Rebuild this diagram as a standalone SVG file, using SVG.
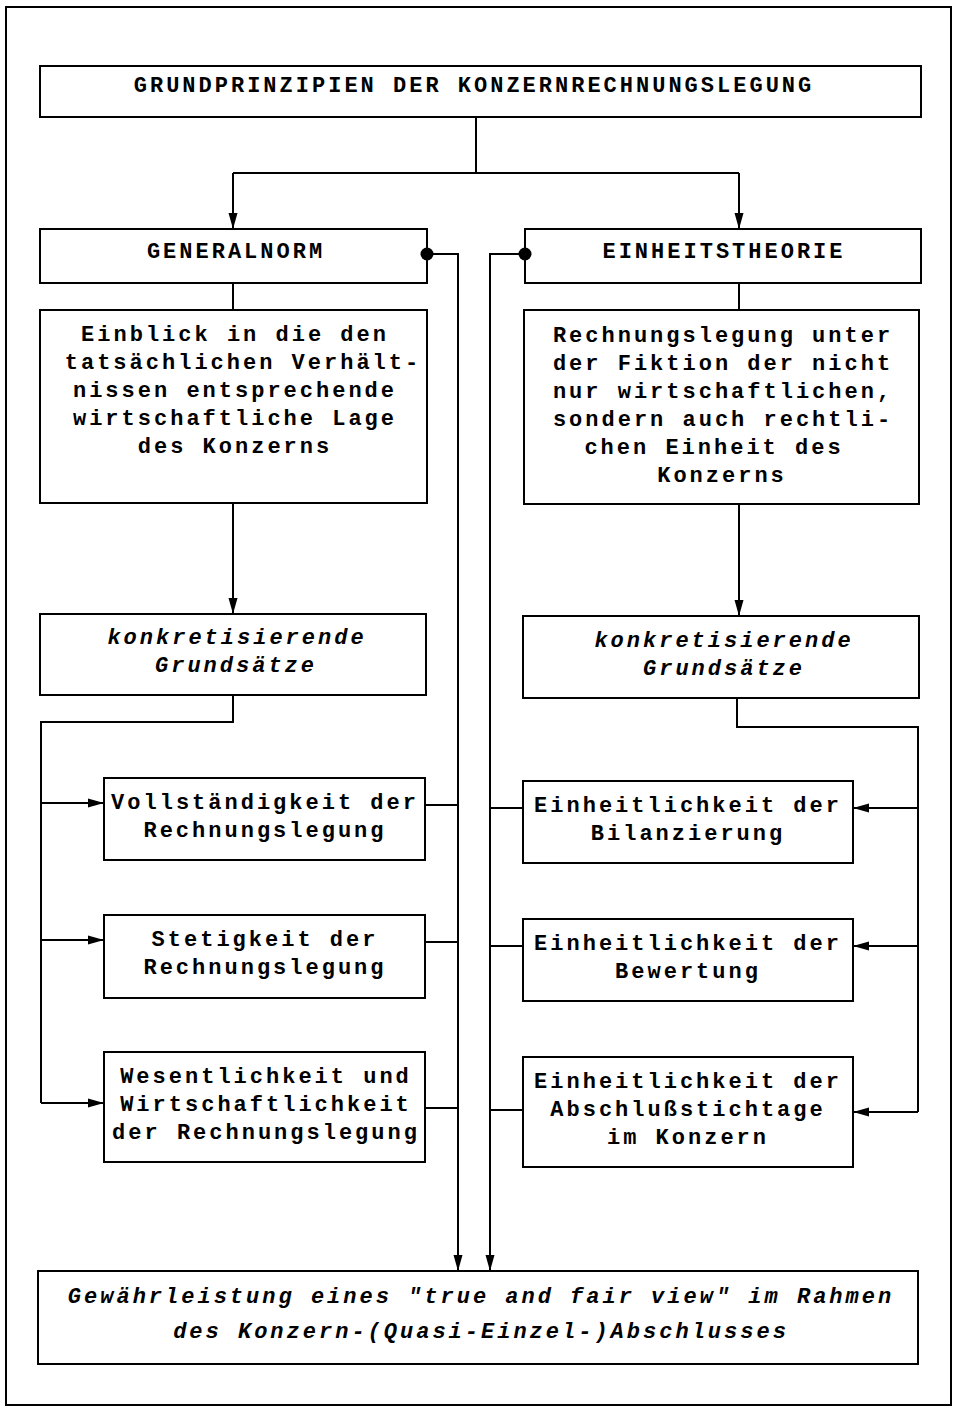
<svg xmlns="http://www.w3.org/2000/svg" width="956" height="1411" viewBox="0 0 956 1411">
  <style>
    .box { fill: #ffffff; stroke: #000000; stroke-width: 2; }
    .frame { fill: #ffffff; stroke: #000000; stroke-width: 2; }
    .wire { fill: none; stroke: #000000; stroke-width: 2; }
    .arrow { fill: none; stroke: #000000; stroke-width: 2; marker-end: url(#head); }
    text { font-family: "Liberation Mono", "DejaVu Sans Mono", monospace; font-size: 22px; font-weight: bold; letter-spacing: 3px; text-anchor: middle; fill: #000000; }
    .it { font-style: italic; }
  </style>
  <defs>
    <marker id="head" markerUnits="userSpaceOnUse" markerWidth="17" markerHeight="10" refX="16" refY="5" orient="auto">
      <path d="M0,0.5 L16,5 L0,9.5 Z" fill="#000000"/>
    </marker>
  </defs>

  <!-- outer frame -->
  <rect class="frame" x="6" y="7" width="945" height="1398"/>

  <g id="title">
    <rect class="box" x="40" y="66" width="881" height="51"/>
    <text x="474" y="92">GRUNDPRINZIPIEN DER KONZERNRECHNUNGSLEGUNG</text>
  </g>

  <g id="generalnorm">
    <rect class="box" x="40" y="229" width="387" height="54"/>
    <text x="236" y="258">GENERALNORM</text>
  </g>

  <g id="einheitstheorie">
    <rect class="box" x="525" y="229" width="396" height="54"/>
    <text x="724" y="258">EINHEITSTHEORIE</text>
  </g>

  <g id="einblick">
    <rect class="box" x="40" y="310" width="387" height="193"/>
    <text x="235" y="341">Einblick in die den</text>
    <text x="243" y="369">tatsächlichen Verhält-</text>
    <text x="235" y="397">nissen entsprechende</text>
    <text x="235" y="425">wirtschaftliche Lage</text>
    <text x="235" y="453">des Konzerns</text>
  </g>

  <g id="fiktion">
    <rect class="box" x="524" y="310" width="395" height="194"/>
    <text x="723" y="342">Rechnungslegung unter</text>
    <text x="723" y="370">der Fiktion der nicht</text>
    <text x="723" y="398">nur wirtschaftlichen,</text>
    <text x="723" y="426">sondern auch rechtli-</text>
    <text x="714" y="454">chen Einheit des</text>
    <text x="722" y="482">Konzerns</text>
  </g>

  <g id="konkret-links">
    <rect class="box" x="40" y="614" width="386" height="81"/>
    <text class="it" x="237" y="644">konkretisierende</text>
    <text class="it" x="236" y="672">Grundsätze</text>
  </g>

  <g id="konkret-rechts">
    <rect class="box" x="523" y="616" width="396" height="82"/>
    <text class="it" x="724" y="647">konkretisierende</text>
    <text class="it" x="724" y="675">Grundsätze</text>
  </g>

  <g id="vollstaendigkeit">
    <rect class="box" x="104" y="778" width="321" height="82"/>
    <text x="265" y="809">Vollständigkeit der</text>
    <text x="265" y="837">Rechnungslegung</text>
  </g>

  <g id="stetigkeit">
    <rect class="box" x="104" y="915" width="321" height="83"/>
    <text x="265" y="946">Stetigkeit der</text>
    <text x="265" y="974">Rechnungslegung</text>
  </g>

  <g id="wesentlichkeit">
    <rect class="box" x="104" y="1052" width="321" height="110"/>
    <text x="266" y="1083">Wesentlichkeit und</text>
    <text x="266" y="1111">Wirtschaftlichkeit</text>
    <text x="266" y="1139">der Rechnungslegung</text>
  </g>

  <g id="bilanzierung">
    <rect class="box" x="523" y="781" width="330" height="82"/>
    <text x="688" y="812">Einheitlichkeit der</text>
    <text x="688" y="840">Bilanzierung</text>
  </g>

  <g id="bewertung">
    <rect class="box" x="523" y="919" width="330" height="82"/>
    <text x="688" y="950">Einheitlichkeit der</text>
    <text x="688" y="978">Bewertung</text>
  </g>

  <g id="stichtage">
    <rect class="box" x="523" y="1057" width="330" height="110"/>
    <text x="688" y="1088">Einheitlichkeit der</text>
    <text x="688" y="1116">Abschlußstichtage</text>
    <text x="688" y="1144">im Konzern</text>
  </g>

  <g id="true-and-fair-view">
    <rect class="box" x="38" y="1271" width="880" height="93"/>
    <text class="it" x="481" y="1303">Gewährleistung eines "true and fair view" im Rahmen</text>
    <text class="it" x="481" y="1338">des Konzern-(Quasi-Einzel-)Abschlusses</text>
  </g>

  <!-- connectors, drawn over the boxes so the junction dots stay whole -->
  <g id="connectors">
    <path class="wire" d="M476 117 V173 M233 173 H739"/>
    <path class="arrow" d="M233 173 V229"/>
    <path class="arrow" d="M739 173 V229"/>
    <path class="wire" d="M233 283 V310"/>
    <path class="wire" d="M739 283 V310"/>
    <path class="arrow" d="M233 503 V614"/>
    <path class="arrow" d="M739 504 V616"/>
    <!-- left bracket feeding the generalnorm principles -->
    <path class="wire" d="M233 695 V722 H41 V1103"/>
    <path class="arrow" d="M41 803 H104"/>
    <path class="arrow" d="M41 940 H104"/>
    <path class="arrow" d="M41 1103 H104"/>
    <!-- right bracket feeding the einheitstheorie principles -->
    <path class="wire" d="M737 698 V727 H918 V1112"/>
    <path class="arrow" d="M918 808 H853"/>
    <path class="arrow" d="M918 946 H853"/>
    <path class="arrow" d="M918 1112 H853"/>
    <!-- collector lines to the result -->
    <path class="arrow" d="M427 254 H458 V1271"/>
    <path class="arrow" d="M525 254 H490 V1271"/>
    <path class="wire" d="M425 805 H458 M425 942 H458 M425 1108 H458"/>
    <path class="wire" d="M523 808 H490 M523 946 H490 M523 1110 H490"/>
    <circle cx="427" cy="254" r="6.5" fill="#000000"/>
    <circle cx="525" cy="254" r="6.5" fill="#000000"/>
  </g>
</svg>
